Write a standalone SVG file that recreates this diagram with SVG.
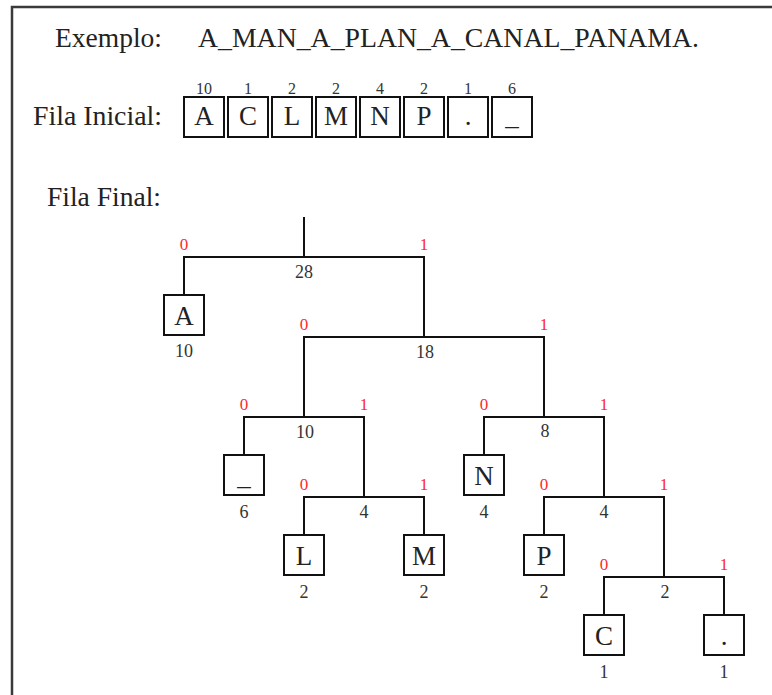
<svg xmlns="http://www.w3.org/2000/svg" width="772" height="695" viewBox="0 0 772 695">
<style>
text{font-family:"Liberation Serif","Times New Roman",serif;}
.big{font-size:27.5px;fill:#222;}
.let{font-size:27px;fill:#222;text-anchor:middle;}
.num{font-size:16px;fill:#333;text-anchor:middle;}
.w{font-size:18px;fill:#333;text-anchor:middle;}
.bit{font-size:17px;fill:#ff2a2a;text-anchor:middle;}
.box{fill:#fff;stroke:#111;stroke-width:2;}
.ln{fill:none;stroke:#111;stroke-width:2;}
</style>
<rect x="0" y="0" width="772" height="695" fill="#fff"/>
<path d="M12,702 V7 H780" fill="none" stroke="#3a3a3a" stroke-width="2.5"/>

<g id="header">
<text class="big" x="55" y="47">Exemplo:</text>
<text class="big" x="198" y="47" textLength="501" lengthAdjust="spacingAndGlyphs">A_MAN_A_PLAN_A_CANAL_PANAMA.</text>
<text class="big" x="33" y="125" textLength="129" lengthAdjust="spacingAndGlyphs">Fila Inicial:</text>
<text class="big" x="47" y="206" textLength="114" lengthAdjust="spacingAndGlyphs">Fila Final:</text>
</g>

<g id="fila-inicial">
<g id="q-A"><rect class="box" x="184" y="97" width="40" height="40"/><text class="let" x="204" y="125">A</text><text class="num" x="204" y="94">10</text></g>
<g id="q-C"><rect class="box" x="228" y="97" width="40" height="40"/><text class="let" x="248" y="125">C</text><text class="num" x="248" y="94">1</text></g>
<g id="q-L"><rect class="box" x="272" y="97" width="40" height="40"/><text class="let" x="292" y="125">L</text><text class="num" x="292" y="94">2</text></g>
<g id="q-M"><rect class="box" x="316" y="97" width="40" height="40"/><text class="let" x="336" y="125">M</text><text class="num" x="336" y="94">2</text></g>
<g id="q-N"><rect class="box" x="360" y="97" width="40" height="40"/><text class="let" x="380" y="125">N</text><text class="num" x="380" y="94">4</text></g>
<g id="q-P"><rect class="box" x="404" y="97" width="40" height="40"/><text class="let" x="424" y="125">P</text><text class="num" x="424" y="94">2</text></g>
<g id="q-dot"><rect class="box" x="448" y="97" width="40" height="40"/><text class="let" x="468" y="125">.</text><text class="num" x="468" y="94">1</text></g>
<g id="q-us"><rect class="box" x="492" y="97" width="40" height="40"/><text class="let" x="512" y="125">_</text><text class="num" x="512" y="94">6</text></g>
</g>

<g id="connectors">
<path class="ln" d="M304,217 V257"/>
<path class="ln" d="M184,295 V257 H424 V337"/>
<path class="ln" d="M304,417 V337 H544 V417"/>
<path class="ln" d="M244,455 V417 H364 V497"/>
<path class="ln" d="M484,455 V417 H604 V497"/>
<path class="ln" d="M304,535 V497 H424 V535"/>
<path class="ln" d="M544,535 V497 H664 V577"/>
<path class="ln" d="M604,615 V577 H724 V615"/>
</g>

<g id="n28"><text class="bit" x="184" y="250">0</text><text class="bit" x="424" y="250">1</text><text class="w" x="304" y="278">28</text></g>
<g id="n18"><text class="bit" x="304" y="330">0</text><text class="bit" x="544" y="330">1</text><text class="w" x="425" y="358">18</text></g>
<g id="n10"><text class="bit" x="244" y="410">0</text><text class="bit" x="364" y="410">1</text><text class="w" x="305" y="438">10</text></g>
<g id="n8"><text class="bit" x="484" y="410">0</text><text class="bit" x="604" y="410">1</text><text class="w" x="545" y="437">8</text></g>
<g id="n4a"><text class="bit" x="304" y="490">0</text><text class="bit" x="424" y="490">1</text><text class="w" x="364" y="518">4</text></g>
<g id="n4b"><text class="bit" x="544" y="490">0</text><text class="bit" x="664" y="490">1</text><text class="w" x="604" y="518">4</text></g>
<g id="n2"><text class="bit" x="604" y="570">0</text><text class="bit" x="724" y="570">1</text><text class="w" x="665" y="598">2</text></g>

<g id="leaf-A"><rect class="box" x="164" y="295" width="40" height="40"/><text class="let" x="184" y="325">A</text><text class="w" x="184" y="357">10</text></g>
<g id="leaf-us"><rect class="box" x="224" y="455" width="40" height="40"/><text class="let" x="244" y="485">_</text><text class="w" x="244" y="518">6</text></g>
<g id="leaf-N"><rect class="box" x="464" y="455" width="40" height="40"/><text class="let" x="484" y="485">N</text><text class="w" x="484" y="518">4</text></g>
<g id="leaf-L"><rect class="box" x="284" y="535" width="40" height="40"/><text class="let" x="304" y="565">L</text><text class="w" x="304" y="598">2</text></g>
<g id="leaf-M"><rect class="box" x="404" y="535" width="40" height="40"/><text class="let" x="424" y="565">M</text><text class="w" x="424" y="598">2</text></g>
<g id="leaf-P"><rect class="box" x="524" y="535" width="40" height="40"/><text class="let" x="544" y="565">P</text><text class="w" x="544" y="598">2</text></g>
<g id="leaf-C"><rect class="box" x="584" y="615" width="40" height="40"/><text class="let" x="604" y="645">C</text><text class="w" x="604" y="678">1</text></g>
<g id="leaf-dot"><rect class="box" x="704" y="615" width="40" height="40"/><text class="let" x="724" y="645">.</text><text class="w" x="724" y="678">1</text></g>
</svg>
